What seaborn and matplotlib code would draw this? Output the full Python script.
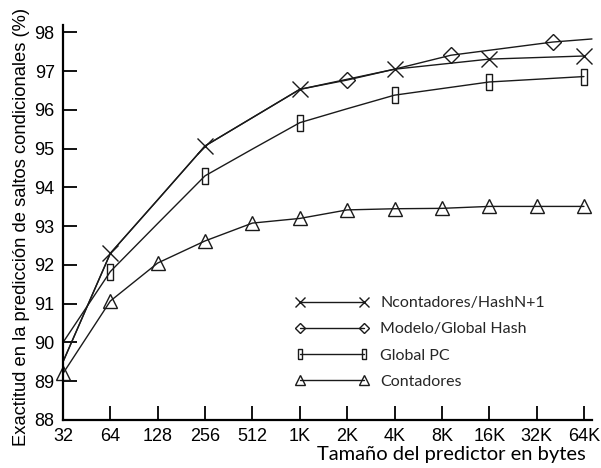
import matplotlib
matplotlib.use("Agg")
import matplotlib.pyplot as plt
import seaborn as sns
import numpy as np
import pandas as pd
from matplotlib.lines import Line2D

sns.set_theme(style="white")
plt.rcParams['font.family'] = ['Liberation Sans', 'DejaVu Sans']

# ---- data ----
sizes = [32, 64, 128, 256, 512, 1024, 2048, 4096, 8192, 16384, 32768, 65536]
size_labels = ['32', '64', '128', '256', '512', '1K', '2K', '4K', '8K', '16K', '32K', '64K']
ncontadores = [89.5, 92.3, 93.68, 95.07, 95.8, 96.53, 96.79, 97.05, 97.18, 97.31, 97.35, 97.39]
global_pc = [90.0, 91.83, 93.07, 94.3, 94.99, 95.67, 96.03, 96.38, 96.55, 96.72, 96.79, 96.86]
contadores = [89.2, 91.07, 92.05, 92.62, 93.08, 93.2, 93.42, 93.45, 93.46, 93.51, 93.51, 93.51]
modelo_sizes = [32, 64, 128, 256, 512, 1024, 2048, 4096, 9345, 41450, 73700]
modelo = [89.5, 92.3, 93.68, 95.07, 95.8, 96.53, 96.77, 97.05, 97.41, 97.75, 97.83]
yticks = [88, 89, 90, 91, 92, 93, 94, 95, 96, 97, 98]
legend_labels = ['Ncontadores/HashN+1', 'Modelo/Global Hash', 'Global PC', 'Contadores']

fig = plt.figure(figsize=(6.01, 4.68), dpi=100)
ax = fig.add_axes([63/601, 48/468, (592-63)/601, (443-48)/468])

rect = [(-0.35, -1), (0.35, -1), (0.35, 1), (-0.35, 1), (-0.35, -1)]
col = '#1a1a1a'
lw = 1.0

def draw(x, y, marker, every, ms, mew=1.0):
    df = pd.DataFrame({'x': x, 'y': y})
    sns.lineplot(data=df, x='x', y='y', ax=ax, color=col, linewidth=lw,
                 marker=marker, markevery=every, markersize=ms,
                 markerfacecolor='none', markeredgecolor=col,
                 markeredgewidth=mew, clip_on=False, estimator=None)

draw(sizes, ncontadores, 'x', [1, 3, 5, 7, 9, 11], 11)
draw(modelo_sizes, modelo, 'D', [6, 8, 9], 8)
draw(sizes, global_pc, rect, [1, 3, 5, 7, 9, 11], 11)
draw(sizes, contadores, '^', list(range(12)), 10)

ax.set_xscale('log', base=2)
ax.set_xlim(32, 2 ** 16.17)
ax.set_ylim(88, 98.19)
ax.set_xticks(sizes)
ax.set_xticklabels(size_labels)
ax.minorticks_off()
ax.set_yticks(yticks)
ax.set_yticklabels([str(v) for v in yticks])

for s in ['top', 'right']:
    ax.spines[s].set_visible(False)
for s in ['left', 'bottom']:
    ax.spines[s].set_linewidth(1.6)
    ax.spines[s].set_color('black')

ax.tick_params(axis='both', direction='in', length=10, width=1.3, colors='black',
               labelsize=13, pad=6, left=True, bottom=True)

ax.set_ylabel('Exactitud en la predicción de saltos condicionales (%)', fontsize=13.2, color='black')
ax.yaxis.set_label_coords(-0.062, 0.49)
ax.set_xlabel('Tamaño del predictor en bytes', fontsize=14.5, color='black',
              fontfamily=['Lato', 'DejaVu Sans'])
ax.xaxis.set_label_coords(0.735, -0.066)

handles = [
    Line2D([], [], color=col, lw=lw, marker='x', markersize=7, markerfacecolor='none', markeredgecolor=col),
    Line2D([], [], color=col, lw=lw, marker='D', markersize=5.5, markerfacecolor='none', markeredgecolor=col),
    Line2D([], [], color=col, lw=lw, marker=rect, markersize=7, markerfacecolor='none', markeredgecolor=col),
    Line2D([], [], color=col, lw=lw, marker='^', markersize=7, markerfacecolor='none', markeredgecolor=col),
]
leg = ax.legend(handles, legend_labels, loc='upper left', bbox_to_anchor=(295/601, (468-296)/468),
                bbox_transform=fig.transFigure, frameon=False, numpoints=2,
                handlelength=4.6, handletextpad=0.75, labelspacing=0.75, borderpad=0, borderaxespad=0,
                prop={'family': ['Lato', 'DejaVu Sans'], 'size': 11.5})

fig.savefig('out.png', dpi=100)
